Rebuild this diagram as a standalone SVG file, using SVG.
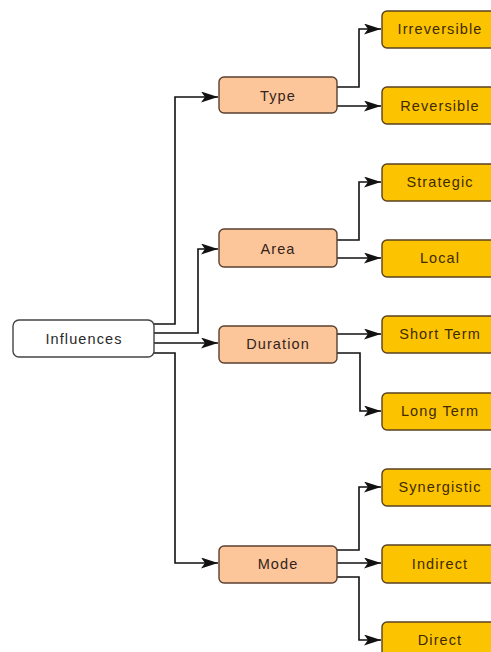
<svg xmlns="http://www.w3.org/2000/svg" width="491" height="652" viewBox="0 0 491 652">
<style>
.root{fill:#ffffff;stroke:#444444;stroke-width:1.4}
.mid{fill:#fcc69a;stroke:#5a4030;stroke-width:1.4}
.leaf{fill:#fcc400;stroke:#5a4020;stroke-width:1.4}
text{font-family:"Liberation Sans",Arial,sans-serif;font-size:14.5px;letter-spacing:1.1px;text-anchor:middle;dominant-baseline:central}
.t-root{fill:#2a2a2a}
.t-mid{fill:#33241a}
.t-leaf{fill:#3f2a00}
.c{fill:none;stroke:#111111;stroke-width:1.6}
</style>
<defs>
<marker id="ah" viewBox="0 0 17 11" refX="17" refY="5.5" markerWidth="17" markerHeight="11" markerUnits="userSpaceOnUse" orient="auto">
<path d="M0,0 L17,5.5 L0,11 L4,5.5 Z" fill="#111111"/>
</marker>
</defs>
<rect width="491" height="652" fill="#ffffff"/>
<g id="connectors">
<path class="c" d="M154,324 H175 V97 H218" marker-end="url(#ah)"/>
<path class="c" d="M154,333 H198 V249 H218" marker-end="url(#ah)"/>
<path class="c" d="M154,343 H218" marker-end="url(#ah)"/>
<path class="c" d="M154,353 H175 V563 H218" marker-end="url(#ah)"/>
<path class="c" d="M337,87 H359 V29 H381" marker-end="url(#ah)"/>
<path class="c" d="M337,106 H381" marker-end="url(#ah)"/>
<path class="c" d="M337,240 H359 V182 H381" marker-end="url(#ah)"/>
<path class="c" d="M337,258 H381" marker-end="url(#ah)"/>
<path class="c" d="M337,334 H381" marker-end="url(#ah)"/>
<path class="c" d="M337,353 H360 V411 H381" marker-end="url(#ah)"/>
<path class="c" d="M337,550 H359 V487 H381" marker-end="url(#ah)"/>
<path class="c" d="M337,563 H381" marker-end="url(#ah)"/>
<path class="c" d="M337,577 H359 V640 H381" marker-end="url(#ah)"/>
</g>
<g id="influences"><rect class="root" x="13" y="320" width="141" height="37" rx="6"/><text class="t-root" x="84" y="339">Influences</text></g>
<g id="type"><rect class="mid" x="219" y="77" width="118" height="36" rx="5"/><text class="t-mid" x="278" y="96">Type</text></g>
<g id="area"><rect class="mid" x="219" y="229" width="118" height="38" rx="5"/><text class="t-mid" x="278" y="249">Area</text></g>
<g id="duration"><rect class="mid" x="219" y="326" width="118" height="37" rx="5"/><text class="t-mid" x="278" y="344">Duration</text></g>
<g id="mode"><rect class="mid" x="219" y="546" width="118" height="37" rx="5"/><text class="t-mid" x="278" y="564">Mode</text></g>
<g id="irreversible"><rect class="leaf" x="382" y="11" width="120" height="37" rx="5"/><text class="t-leaf" x="440" y="29">Irreversible</text></g>
<g id="reversible"><rect class="leaf" x="382" y="87" width="120" height="37" rx="5"/><text class="t-leaf" x="440" y="106">Reversible</text></g>
<g id="strategic"><rect class="leaf" x="382" y="164" width="120" height="37" rx="5"/><text class="t-leaf" x="440" y="182">Strategic</text></g>
<g id="local"><rect class="leaf" x="382" y="240" width="120" height="37" rx="5"/><text class="t-leaf" x="440" y="258">Local</text></g>
<g id="shortterm"><rect class="leaf" x="382" y="316" width="120" height="37" rx="5"/><text class="t-leaf" x="440" y="334">Short Term</text></g>
<g id="longterm"><rect class="leaf" x="382" y="393" width="120" height="37" rx="5"/><text class="t-leaf" x="440" y="411">Long Term</text></g>
<g id="synergistic"><rect class="leaf" x="382" y="469" width="120" height="37" rx="5"/><text class="t-leaf" x="440" y="487">Synergistic</text></g>
<g id="indirect"><rect class="leaf" x="382" y="545" width="120" height="38" rx="5"/><text class="t-leaf" x="440" y="564">Indirect</text></g>
<g id="direct"><rect class="leaf" x="382" y="622" width="120" height="40" rx="5"/><text class="t-leaf" x="440" y="640">Direct</text></g>
</svg>
